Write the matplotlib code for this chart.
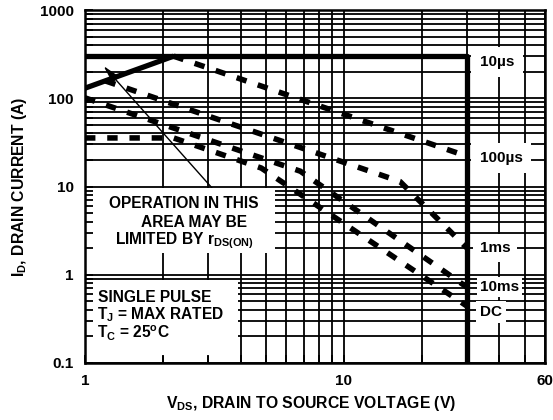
import numpy as np
import matplotlib
matplotlib.use("Agg")
import matplotlib.pyplot as plt
from matplotlib.patches import Rectangle
from matplotlib.ticker import LogLocator, NullFormatter, FixedLocator

plt.rcParams["font.family"] = ["Liberation Sans", "DejaVu Sans"]
plt.rcParams["font.weight"] = "bold"
plt.rcParams["mathtext.fontset"] = "custom"
plt.rcParams["mathtext.rm"] = "Liberation Sans:bold"
plt.rcParams["mathtext.it"] = "Liberation Sans:bold"
plt.rcParams["mathtext.bf"] = "Liberation Sans:bold"
plt.rcParams["mathtext.default"] = "rm"
plt.rcParams["lines.scale_dashes"] = False

# --- data (V, A) ---
limit_v = [1, 30, 30]
limit_i = [300, 300, 0.1]

rds_v = [1.0, 2.2]
rds_i = [130, 300]

us100_v = [2.2, 30]
us100_i = [300, 22]

ms1_v = [1.2, 16.5, 30]
ms1_i = [157, 11.4, 2.0]

ms10_v = [1.0, 6.8, 30]
ms10_i = [101, 14.9, 0.72]

dc_v = [1.0, 2.2, 4.8, 30]
dc_i = [35.5, 35.5, 16.2, 0.44]

curve_labels = ["10\u00b5s", "100\u00b5s", "1ms", "10ms", "DC"]
label_v = 33.6
label_i = [258, 21, 2.0, 0.73, 0.38]

x_ticks = [1, 10, 60]
y_ticks = [0.1, 1, 10, 100, 1000]

fig = plt.figure(figsize=(5.53, 4.20), dpi=100)
pos = [85 / 553, 1 - 363 / 420, 460 / 553, 353 / 420]
ax = fig.add_axes(pos)
ax.set_xscale("log")
ax.set_yscale("log")
ax.set_xlim(1, 60)
ax.set_ylim(0.1, 1000)

ax.xaxis.set_major_locator(FixedLocator(x_ticks))
ax.set_xticklabels([str(t) for t in x_ticks])
ax.xaxis.set_minor_locator(LogLocator(subs=np.arange(2, 10)))
ax.xaxis.set_minor_formatter(NullFormatter())
ax.yaxis.set_major_locator(FixedLocator(y_ticks))
ax.set_yticklabels(["0.1", "1", "10", "100", "1000"])
ax.yaxis.set_minor_locator(LogLocator(subs=np.arange(2, 10)))
ax.yaxis.set_minor_formatter(NullFormatter())
ax.tick_params(which="both", length=0, labelsize=11, pad=8)
ax.set_axisbelow(True)
ax.grid(True, which="both", color="black", lw=1.3)
for s in ax.spines.values():
    s.set_visible(False)

# SOA curves
ax.plot(limit_v, limit_i, color="black", lw=3.8, solid_capstyle="butt", zorder=2)
ax.plot(rds_v, rds_i, color="black", lw=3.8, solid_capstyle="butt", zorder=2)
for v, i in [(us100_v, us100_i), (ms1_v, ms1_i), (ms10_v, ms10_i), (dc_v, dc_i)]:
    ln, = ax.plot(v, i, color="black", lw=4.0, dash_capstyle="butt", zorder=2)
    ln.set_dashes((7.5, 8.5))

# arrow to the rds(on) limit
ax.annotate("", xy=(1.18, 232), xytext=(3.1, 9.6),
            arrowprops=dict(arrowstyle="-|>,head_length=0.6,head_width=0.15",
                            mutation_scale=18, lw=1.0, color="black",
                            shrinkA=0, shrinkB=0), zorder=2.5)

# white note boxes
ax.add_patch(Rectangle((0, 0.312), 0.413, 0.184, transform=ax.transAxes,
                       facecolor="white", edgecolor="none", zorder=3))
ax.add_patch(Rectangle((0, 0.020), 0.333, 0.215, transform=ax.transAxes,
                       facecolor="white", edgecolor="none", zorder=3))

note_kw = dict(transform=ax.transAxes, fontsize=11.2, va="baseline", zorder=4)
ax.text(0.214, 0.439, "OPERATION IN THIS", ha="center", **note_kw)
ax.text(0.237, 0.385, "AREA MAY BE", ha="center", **note_kw)
ax.text(0.216, 0.337, "LIMITED BY r$_{DS(ON)}$", ha="center", **note_kw)

ax.text(0.028, 0.174, "SINGLE PULSE", ha="left", **note_kw)
ax.text(0.026, 0.125, "T$_{J}$ = MAX RATED", ha="left", **note_kw)
ax.text(0.026, 0.069, "T$_{C}$ = 25$^{o}$C", ha="left", **note_kw)

pads = [6, 6, 5, 2, 3]
for lab, yi, p in zip(curve_labels, label_i, pads):
    ax.text(label_v, yi, lab, fontsize=11, ha="left", va="center", zorder=4,
            bbox=dict(facecolor="white", edgecolor="none", pad=p))

# overlay axes: frame and inward ticks above the white boxes
ov = fig.add_axes(pos, facecolor="none", zorder=ax.get_zorder() + 1)
ov.set_xscale("log")
ov.set_yscale("log")
ov.set_xlim(1, 60)
ov.set_ylim(0.1, 1000)
ov.xaxis.set_major_locator(FixedLocator(x_ticks))
ov.xaxis.set_minor_locator(LogLocator(subs=np.arange(2, 10)))
ov.yaxis.set_major_locator(FixedLocator(y_ticks))
ov.yaxis.set_minor_locator(LogLocator(subs=np.arange(2, 10)))
ov.tick_params(which="both", direction="in", length=6, width=1.3,
               labelleft=False, labelbottom=False)
for s in ov.spines.values():
    s.set_linewidth(1.8)

fig.text(311 / 553, 1 - 408 / 420, "V$_{DS}$, DRAIN TO SOURCE VOLTAGE (V)",
         ha="center", va="baseline", fontsize=11.3)
fig.text(20 / 553, 1 - 187 / 420, "I$_{D}$, DRAIN CURRENT (A)",
         ha="center", va="center", rotation=90, fontsize=11.3)

fig.savefig("out.png", dpi=100)
